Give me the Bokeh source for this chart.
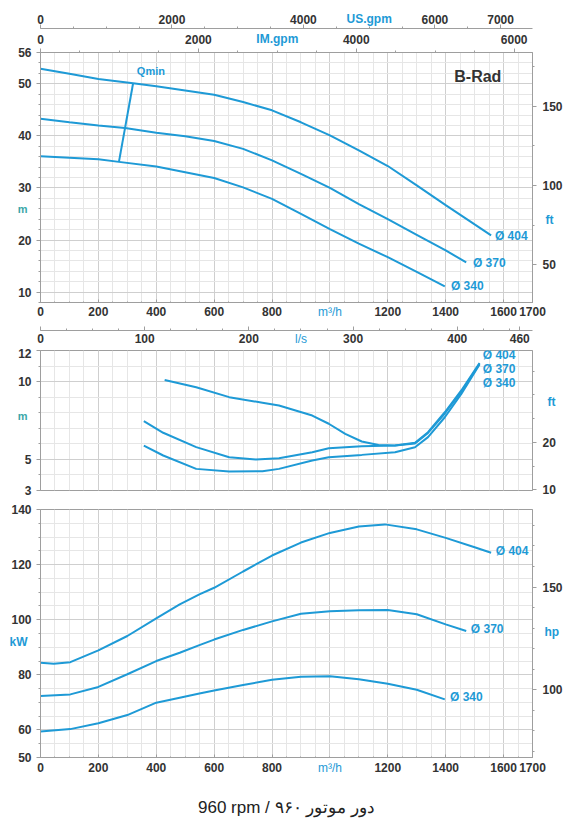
from bokeh.plotting import figure
from bokeh.models import Range1d, LinearAxis, FixedTicker, Label, Grid
from bokeh.layouts import column
from bokeh.embed import file_html
from bokeh.resources import INLINE

# ---------------- data ----------------
diam_labels = ["Ø 404", "Ø 370", "Ø 340"]

# Head H (m) vs flow Q (m3/h)
q_h404 = [0, 100, 200, 320, 400, 500, 600, 700, 800, 900, 1000, 1100, 1200, 1300, 1400, 1500, 1557]
h_404 = [52.9, 51.9, 50.9, 50.1, 49.5, 48.7, 47.9, 46.5, 44.9, 42.6, 40.1, 37.2, 34.2, 30.5, 26.7, 23.0, 20.9]
q_h370 = [0, 100, 200, 292, 400, 500, 600, 700, 800, 900, 1000, 1100, 1200, 1300, 1400, 1471]
h_370 = [43.3, 42.6, 42.0, 41.5, 40.6, 39.9, 39.0, 37.5, 35.3, 32.7, 30.0, 26.9, 24.0, 21.0, 18.0, 15.7]
q_h340 = [0, 100, 200, 271, 400, 500, 600, 700, 800, 900, 1000, 1100, 1200, 1300, 1397]
h_340 = [36.1, 35.8, 35.5, 35.0, 34.1, 33.0, 31.9, 30.1, 27.9, 25.0, 22.1, 19.3, 16.7, 13.9, 11.1]
qmin_q = [271, 320]
qmin_h = [35.0, 50.1]

# NPSH (m) vs flow
q_n404 = [429, 538, 652, 767, 824, 939, 996, 1053, 1110, 1168, 1225, 1294, 1339, 1397, 1454, 1517]
n_404 = [10.1, 9.64, 9.0, 8.64, 8.46, 7.82, 7.29, 6.64, 6.15, 5.93, 5.89, 6.07, 6.75, 8.03, 9.43, 11.2]
q_n370 = [357, 424, 538, 652, 744, 824, 939, 996, 1110, 1225, 1294, 1339, 1397, 1454, 1517]
n_370 = [7.46, 6.71, 5.79, 5.14, 5.0, 5.08, 5.46, 5.72, 5.85, 5.89, 6.02, 6.70, 7.95, 9.35, 11.15]
q_n340 = [357, 424, 538, 652, 767, 824, 939, 996, 1110, 1225, 1294, 1339, 1397, 1454, 1517]
n_340 = [5.89, 5.25, 4.39, 4.22, 4.24, 4.39, 4.93, 5.14, 5.29, 5.46, 5.78, 6.43, 7.71, 9.21, 11.1]

# Power P (kW) vs flow
q_p404 = [0, 46, 103, 200, 300, 400, 481, 549, 600, 700, 800, 900, 1000, 1100, 1190, 1300, 1400, 1500, 1557]
p_404 = [84.4, 84.0, 84.6, 88.9, 94.1, 100.5, 105.6, 109.2, 111.6, 117.5, 123.3, 128.0, 131.5, 133.8, 134.6, 132.8, 129.7, 126.3, 124.3]
q_p370 = [0, 103, 200, 300, 400, 481, 549, 600, 700, 800, 900, 1000, 1100, 1200, 1300, 1400, 1471]
p_370 = [72.3, 72.9, 75.6, 80.2, 85.0, 88.0, 90.8, 92.8, 96.3, 99.4, 102.2, 103.1, 103.4, 103.5, 102.0, 98.3, 95.9]
q_p340 = [0, 103, 200, 300, 400, 481, 549, 600, 700, 800, 900, 1000, 1100, 1200, 1300, 1397]
p_340 = [59.4, 60.3, 62.4, 65.4, 69.9, 71.7, 73.2, 74.3, 76.3, 78.2, 79.3, 79.5, 78.4, 76.8, 74.6, 71.1]

# axis ticks
q_ticks = [0, 200, 400, 600, 800, 1200, 1400, 1600, 1700]
usgpm_ticks = [0, 2000, 4000, 6000, 7000]
imgpm_ticks = [0, 2000, 4000, 6000]
ls_ticks = [0, 100, 200, 300, 400, 460]
head_ticks = [10, 20, 30, 40, 50, 56]
headft_ticks = [50, 100, 150]
npsh_ticks = [3, 5, 10, 12]
npshft_ticks = [10, 20]
kw_ticks = [50, 60, 80, 100, 120, 140]
hp_ticks = [100, 150]

footer_text = "960 rpm / ۹۶۰ دور موتور"

# unit conversions
M3H_PER_USGPM = 0.2271247
M3H_PER_IMGPM = 0.2727654
M3H_PER_LS = 3.6
M_PER_FT = 0.3048
KW_PER_HP = 0.7457

# ---------------- style ----------------
BLUE = "#1e9ad6"
TEAL = "#3aa7a8"
TXT = "#333333"
FONT = "Liberation Sans"
GRID_MAJ = "#cfcfcf"
GRID_MIN = "#e6e6e6"
FRAME = "#9e9e9e"
QMAX = 1700


def make_fig(y0, y1, frame_h, mb_top, mb_bottom):
    p = figure(width=565, frame_height=frame_h,
               x_range=Range1d(0, QMAX), y_range=Range1d(y0, y1),
               x_axis_type=None, y_axis_type=None,
               output_backend="svg", toolbar_location=None,
               min_border_left=40, min_border_right=30,
               min_border_top=mb_top, min_border_bottom=mb_bottom)
    p.outline_line_color = FRAME
    p.outline_line_width = 1
    p.background_fill_color = "white"
    p.border_fill_color = "white"
    return p


def add_grids(p, ymaj, ymin):
    gx = Grid(dimension=0,
              ticker=FixedTicker(ticks=list(range(0, 1701, 200)), minor_ticks=list(range(0, 1701, 50))),
              grid_line_color=GRID_MAJ, minor_grid_line_color=GRID_MIN)
    gy = Grid(dimension=1, ticker=FixedTicker(ticks=ymaj, minor_ticks=ymin),
              grid_line_color=GRID_MAJ, minor_grid_line_color=GRID_MIN)
    p.add_layout(gx, "center")
    p.add_layout(gy, "center")


def style_axis(ax, tick_out=4, tick_in=0, standoff=4):
    ax.major_label_text_font = FONT
    ax.major_label_text_font_size = "12px"
    ax.major_label_text_font_style = "bold"
    ax.major_label_text_color = TXT
    ax.axis_line_color = FRAME
    ax.major_tick_line_color = FRAME
    ax.minor_tick_line_color = FRAME
    ax.major_tick_out = tick_out
    ax.major_tick_in = tick_in
    ax.minor_tick_out = max(tick_out - 2, 0)
    ax.minor_tick_in = max(tick_in - 2, 0)
    ax.major_label_standoff = standoff
    return ax


def unit_axis(p, side, pos, text, standoff, pad=None, color=BLUE, size="12px",
              style="bold", **rng):
    """An axis that draws only one coloured unit text in the tick-label row."""
    ax = LinearAxis(ticker=FixedTicker(ticks=[pos]), major_label_overrides={pos: text}, **rng)
    ax.axis_line_color = None
    ax.major_tick_line_color = None
    ax.minor_tick_line_color = None
    ax.major_tick_out = 0
    ax.major_tick_in = 0
    ax.minor_tick_out = 0
    ax.minor_tick_in = 0
    ax.major_label_standoff = standoff
    ax.major_label_text_font = FONT
    ax.major_label_text_font_size = size
    ax.major_label_text_font_style = style
    ax.major_label_text_color = color
    if pad is not None:
        ax.axis_label = " "
        ax.axis_label_text_font_size = "1px"
        ax.axis_label_standoff = pad
    p.add_layout(ax, side)
    return ax


def lab(p, x, y, text, color=BLUE, size="12px", align="left", style="bold"):
    p.add_layout(Label(x=x, y=y, text=text, text_color=color, text_font=FONT,
                       text_font_size=size, text_font_style=style,
                       text_align=align, text_baseline="middle"))


# ================= Head panel =================
p1 = make_fig(8, 56, 250, 52, 0)
p1.extra_x_ranges = {
    "us": Range1d(0, QMAX / M3H_PER_USGPM),
    "im": Range1d(0, QMAX / M3H_PER_IMGPM),
    "ls": Range1d(0, QMAX / M3H_PER_LS),
}
p1.extra_y_ranges = {"ft": Range1d(8 / M_PER_FT, 56 / M_PER_FT)}
add_grids(p1, [10, 20, 30, 40, 50], list(range(8, 57, 2)))

# left: metres
ax = LinearAxis(ticker=FixedTicker(ticks=head_ticks, minor_ticks=list(range(8, 57, 2))))
p1.add_layout(style_axis(ax, tick_out=4, standoff=5), "left")
unit_axis(p1, "left", 26, "m", -12, color=TEAL, size="11px")
# right: feet
ax = LinearAxis(y_range_name="ft", ticker=FixedTicker(ticks=headft_ticks, minor_ticks=list(range(25, 184, 25))))
p1.add_layout(style_axis(ax, tick_out=4, standoff=6), "right")
unit_axis(p1, "right", 78, "ft", -20, y_range_name="ft")
# above: IM.gpm then US.gpm
ax = LinearAxis(x_range_name="im", ticker=FixedTicker(ticks=imgpm_ticks, minor_ticks=list(range(0, 6300, 500))))
p1.add_layout(style_axis(ax, tick_out=4, standoff=5), "above")
unit_axis(p1, "above", 3000, "IM.gpm", -14, x_range_name="im")
ax = LinearAxis(x_range_name="us", ticker=FixedTicker(ticks=usgpm_ticks, minor_ticks=list(range(0, 7500, 500))))
p1.add_layout(style_axis(ax, tick_out=4, standoff=1), "above")
unit_axis(p1, "above", 5000, "US.gpm", -14, x_range_name="us")
# below: m3/h then l/s
ax = LinearAxis(ticker=FixedTicker(ticks=q_ticks, minor_ticks=list(range(0, 1701, 50))))
p1.add_layout(style_axis(ax, tick_out=0, tick_in=3, standoff=4), "below")
unit_axis(p1, "below", 1000, "m³/h", -14, pad=5, style="normal")
ax = LinearAxis(x_range_name="ls", ticker=FixedTicker(ticks=ls_ticks, minor_ticks=list(range(0, 473, 25))))
p1.add_layout(style_axis(ax, tick_out=0, tick_in=4, standoff=3), "below")
unit_axis(p1, "below", 250, "l/s", -14, style="normal", x_range_name="ls")

for q, h in [(q_h404, h_404), (q_h370, h_370), (q_h340, h_340)]:
    p1.line(q, h, line_color=BLUE, line_width=2)
p1.line(qmin_q, qmin_h, line_color=BLUE, line_width=2)

lab(p1, 333, 52.4, "Qmin", size="11px")
lab(p1, 1511, 51.4, "B-Rad", color=TXT, size="16px", align="center")
lab(p1, 1570, 20.7, diam_labels[0])
lab(p1, 1494, 15.6, diam_labels[1])
lab(p1, 1418, 11.1, diam_labels[2])

# ================= NPSH panel =================
p2 = make_fig(3, 12, 140, 2, 9)
p2.extra_y_ranges = {"ft": Range1d(3 / M_PER_FT, 12 / M_PER_FT)}
add_grids(p2, [5, 10], list(range(3, 13, 1)))
ax = LinearAxis(ticker=FixedTicker(ticks=npsh_ticks, minor_ticks=list(range(3, 13, 1))))
p2.add_layout(style_axis(ax, tick_out=4, standoff=5), "left")
unit_axis(p2, "left", 7.8, "m", -12, color=TEAL, size="11px")
ax = LinearAxis(y_range_name="ft", ticker=FixedTicker(ticks=npshft_ticks, minor_ticks=list(range(10, 40, 5))))
p2.add_layout(style_axis(ax, tick_out=4, standoff=6), "right")
unit_axis(p2, "right", 28.5, "ft", -11, y_range_name="ft")

for q, n in [(q_n404, n_404), (q_n370, n_370), (q_n340, n_340)]:
    p2.line(q, n, line_color=BLUE, line_width=2)
lab(p2, 1528, 11.74, diam_labels[0])
lab(p2, 1528, 10.82, diam_labels[1])
lab(p2, 1528, 9.9, diam_labels[2])

# ================= Power panel =================
p3 = make_fig(50, 140, 248, 10, 0)
p3.extra_y_ranges = {"hp": Range1d(50 / KW_PER_HP, 140 / KW_PER_HP)}
add_grids(p3, [60, 80, 100, 120], list(range(50, 141, 5)))
ax = LinearAxis(ticker=FixedTicker(ticks=kw_ticks, minor_ticks=list(range(50, 141, 5))))
p3.add_layout(style_axis(ax, tick_out=4, standoff=5), "left")
unit_axis(p3, "left", 92, "kW", -19)
ax = LinearAxis(y_range_name="hp", ticker=FixedTicker(ticks=hp_ticks, minor_ticks=list(range(70, 188, 10))))
p3.add_layout(style_axis(ax, tick_out=4, standoff=6), "right")
unit_axis(p3, "right", 128, "hp", -21, y_range_name="hp")
ax = LinearAxis(ticker=FixedTicker(ticks=q_ticks, minor_ticks=list(range(0, 1701, 50))))
p3.add_layout(style_axis(ax, tick_out=0, tick_in=3, standoff=5), "below")
fa = unit_axis(p3, "below", 1000, "m³/h", -14, style="normal")
fa.axis_label = footer_text
fa.axis_label_standoff = 20
fa.axis_label_text_font = FONT
fa.axis_label_text_font_size = "17px"
fa.axis_label_text_font_style = "normal"
fa.axis_label_text_color = "#222222"

for q, pw in [(q_p404, p_404), (q_p370, p_370), (q_p340, p_340)]:
    p3.line(q, pw, line_color=BLUE, line_width=2)
lab(p3, 1573, 125.1, diam_labels[0])
lab(p3, 1487, 96.5, diam_labels[1])
lab(p3, 1415, 72.0, diam_labels[2])

layout = column(p1, p2, p3, spacing=0)
open("out.html", "w").write(file_html(layout, INLINE))
